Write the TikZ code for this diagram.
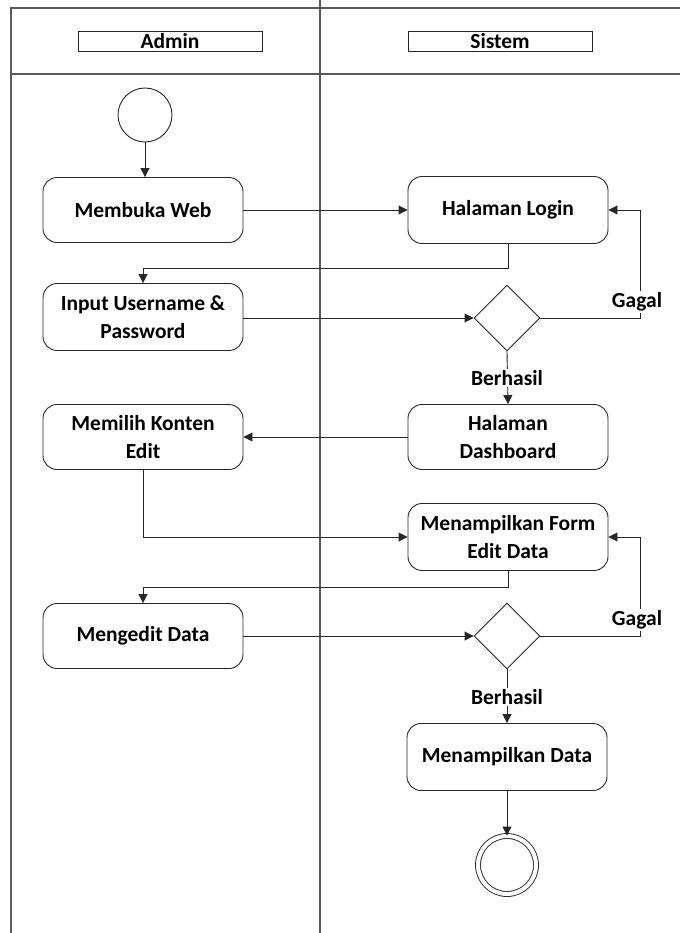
\documentclass[tikz,border=0pt]{standalone}
\usepackage{fontspec}
\setmainfont{Carlito}
\usetikzlibrary{arrows.meta,shapes.geometric,calc}
\begin{document}
\begin{tikzpicture}[x=1pt,y=-1pt,
  lbl/.style={font=\bfseries\fontsize{21.5}{28}\selectfont, align=center},
  act/.style={lbl, draw=black!85, line width=0.9pt, rounded corners=14pt,
    minimum width=200pt, minimum height=65pt, inner sep=2pt},
  decide/.style={draw=black!85, line width=0.9pt, diamond, minimum width=66pt,
    minimum height=66pt, inner sep=0pt},
  lane/.style={lbl, draw=black!85, line width=0.9pt, minimum width=184pt,
    minimum height=20pt, inner sep=0pt},
  flow/.style={draw=black!85, line width=0.9pt, -{Triangle[length=9pt,width=9pt]}},
  guard/.style={lbl, fill=white, inner sep=1.5pt},
  frame/.style={draw=black!65, line width=1.3pt}]
\useasboundingbox (0,0) rectangle (680,933);

% swimlane frame
\draw[frame] (680,8) -- (11,8) -- (11,933);
\draw[frame] (11,74) -- (680,74);
\draw[frame] (320,0) -- (320,933);
\node[lane] (admin) at (170,41) {Admin};
\node[lane] (sistem) at (500,41) {Sistem};

% start / end
\node[circle, draw=black!85, line width=0.9pt, minimum size=54pt, inner sep=0pt] (start) at (145,115) {};
\node[circle, draw=black!85, line width=0.9pt, double=white, double distance=4pt,
  minimum size=58pt, inner sep=0pt] (finish) at (507,865) {};

% activities
\node[act] (web) at (143,210) {Membuka Web};
\node[act, minimum height=67pt] (login) at (508,210) {Halaman Login};
\node[act, minimum height=67pt] (input) at (143,317) {Input Username \&\\Password};
\node[decide] (d1) at (507,318) {};
\node[act] (dash) at (508,437) {Halaman\\Dashboard};
\node[act] (pilih) at (143,437) {Memilih Konten\\Edit};
\node[act, minimum height=67pt] (form) at (508,537) {Menampilkan Form\\Edit Data};
\node[act] (edit) at (143,636) {Mengedit Data};
\node[decide] (d2) at (507,636) {};
\node[act, minimum height=67pt] (tampil) at (507,757) {Menampilkan Data};

% flows
\draw[flow] (start.south) -- (start.south |- web.north);
\draw[flow] (web.east) -- (login.west);
\draw[flow] (login.south) -- ++(0,24) -| (input.north);
\draw[flow] (input.east |- d1.west) -- (d1.west);
\draw[flow] (d1.east) -| ($(login.east)+(32,0)$) -- (login.east);
\draw[flow] (d1.south) -- (dash.north);
\draw[flow] (dash.west) -- (pilih.east);
\draw[flow] (pilih.south) |- (form.west);
\draw[flow] (form.south) -- ++(0,16) -| (edit.north);
\draw[flow] (edit.east |- d2.west) -- (d2.west);
\draw[flow] (d2.east) -| ($(form.east)+(32,0)$) -- (form.east);
\draw[flow] (d2.south) -- (tampil.north);
\draw[flow] (tampil.south) -- (finish.north);

% guards
\node[guard] (gagal1) at (637,302) {Gagal};
\node[guard] (ok1) at (507,378) {Berhasil};
\node[guard] (gagal2) at (637,620) {Gagal};
\node[guard] (ok2) at (507,697) {Berhasil};
\end{tikzpicture}
\end{document}
